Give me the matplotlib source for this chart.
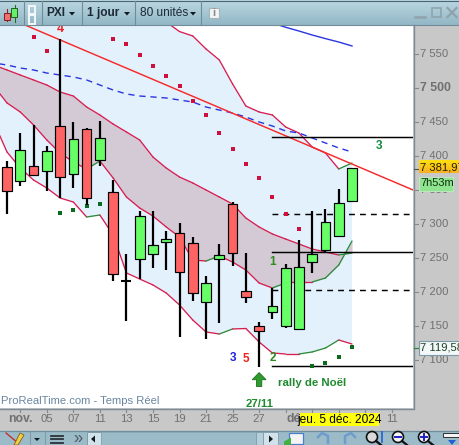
import matplotlib
matplotlib.use("Agg")
import matplotlib.pyplot as plt
from matplotlib.patches import Rectangle, Polygon, Circle
import numpy as np

plt.rcParams['font.family'] = ['Liberation Sans', 'DejaVu Sans']
W, H = 459, 445

# ---------- data ----------
highs = [7392.6,7433.8,7445.6,7414.7,7572,7450,7441.2,7451.5,7364.7,7256,7319,7319,7289.7,7301.5,7280.4,7223.5,7270.6,7332.8,7257.3,7155.4,7205.4,7240.7,7276.5,7319.6,7321.6,7351.5,7381.9]
lows = [7315,7356.3,7371,7349,7337.8,7353.4,7328,7385.7,7216,7157.8,7218.7,7235.7,7232.3,7134.2,7187.2,7130.4,7154.8,7238.7,7184.3,7090.2,7160.7,7147.5,7145.2,7228.4,7257,7282,7333.4]
opens = [7383.4,7362.8,7384.8,7377.5,7443.6,7373.1,7439.2,7393.7,7346.6,7216.2,7248,7255.4,7274,7286.3,7271.6,7184.8,7249,7329,7201.5,7149.6,7170.8,7150.4,7146,7243.7,7261.3,7282,7333.4]
closes = [7349,7408.3,7371.6,7406.9,7368.7,7424.5,7337.8,7426,7226,7216.2,7311.3,7268.7,7277.5,7229,7198,7212.8,7253.9,7256.9,7193,7142.2,7179,7234.8,7236.3,7255.4,7302.5,7330.4,7381.9]

band_idx = list(range(-1, 27))
upper_outer = [7790,7778,7762,7744,7733,7716,7701,7683,7671,7656,7641,7624,7610,7597,7583,7576.5,7557.3,7541.2,7505.9,7473.5,7464.7,7460.3,7442.6,7433.8,7413.2,7404.4,7380.9,7389.7]
upper_inner = [7533.8,7526.5,7519.1,7511.8,7504.4,7494.1,7488.2,7472.1,7460.3,7447,7435.3,7423.5,7398.5,7382.3,7369.1,7360.3,7350,7339.7,7329.4,7308.8,7295.6,7285.3,7277.9,7270.6,7263.2,7258.8,7254.4,7257.3]
lower_inner = [7503,7478,7464.7,7445.6,7423.5,7404.4,7391.2,7380.9,7392.6,7367.6,7339.7,7323.5,7311.7,7295.6,7280.9,7247,7245.6,7252.9,7244.1,7232.3,7213.2,7205.9,7213.2,7214.7,7214.7,7220.6,7239.7,7275]
lower_outer = [7450,7405.9,7382.3,7364.7,7352.9,7338.2,7332.3,7310.3,7313.2,7283.8,7228,7219.1,7210.3,7198.5,7180.9,7158.8,7141.2,7138.2,7145.6,7146.3,7126.5,7110.3,7108.8,7108.8,7111.8,7117.6,7129.4,7123.5]
blue_dashed = [7536.8,7533.8,7529.4,7526.5,7522,7519.1,7516.2,7511.8,7504.4,7497,7491.2,7488.2,7486.8,7485.3,7482.3,7479.4,7472,7467.6,7463.2,7457.3,7450,7444.1,7436.8,7433.8,7426.5,7419.1,7411.8,7405.9]
blue_idx = [20,21,22,23,24,25,26]
blue_solid = [7595.6,7589.3,7583.8,7577.9,7572.6,7567.6,7561.8]
trend_x = [1.36, 30.6]
trend_y = [7592.6, 7350]
solid_levels = [7427.5, 7258.4, 7090.7]
dashed_levels = [7314.2, 7202.4]
red_dot_idx = [2,3,8,9,10,11,12,13,14,15,16,17,18,19,20,21,22]
red_dots = [7575,7554.4,7572,7564.7,7548.5,7532.3,7517.6,7502.9,7480.9,7460.3,7433.8,7410.3,7388.2,7367.6,7339.7,7314.7,7292.6]
green_dot_idx = [4,5,6,7,23,24,25,26]
green_dots = [7316.2,7320.6,7326.5,7329.4,7091.2,7095.6,7104.4,7119.1]
y_ticks = [7550,7500,7450,7400,7350,7300,7250,7200,7150,7100]
x_tick_idx = [1,3,5,7,9,11,13,15,17,19,21,23,25,27,29]
x_label_idx = [1,3,5,7,9,11,13,15,17,19,22,29]
x_tick_labels = ['nov.','05','07','11','13','15','19','21','25','27','déc.','11']

# ---------- layout helpers ----------
CL, CR, CT, CB = 0, 413, 25, 408
fig = plt.figure(figsize=(W/100, H/100), dpi=100, facecolor='#C8C8C8')
ax = fig.add_axes([CL/W, 1-CB/H, (CR-CL)/W, (CB-CT)/H], zorder=1)
ax.set_xlim((0-7)/13.27, (413-7)/13.27)
ax.set_ylim(7629.4-408*1.4706, 7629.4-25*1.4706)
ax.set_xticks([]); ax.set_yticks([])
for s in ax.spines.values():
    s.set_visible(False)

CRED = '#D81E50'; CGRN = '#2E8B3A'; FILLB = '#E3F1FD'; FILLG = '#D3CAD6'

ax.fill_between(band_idx, lower_outer, upper_outer, color=FILLB, lw=0, zorder=1)
ax.fill_between(band_idx, lower_inner, upper_inner, color=FILLG, lw=0, zorder=2)

def band(vals):
    for k in range(len(vals)-1):
        col = CGRN if vals[k+1]-vals[k] > 2.5 else CRED
        ax.plot(band_idx[k:k+2], vals[k:k+2], color=col, lw=0.95, zorder=3, solid_capstyle='round')
for b in (upper_outer, upper_inner, lower_inner, lower_outer):
    band(b)

ax.plot(band_idx, blue_dashed, color='#2A35E0', lw=1.0, ls=(0, (4.5, 3.5)), zorder=3)
ax.plot(blue_idx, blue_solid, color='#2A35E0', lw=1.0, zorder=3)
ax.plot(trend_x, trend_y, color='#F52A2A', lw=1.05, zorder=4)

for lv in solid_levels:
    ax.plot([20, 30.6], [lv, lv], color='black', lw=1.05, zorder=4)
for lv in dashed_levels:
    ax.plot([20, 30.6], [lv, lv], color='black', lw=1.05, ls=(0, (4, 3.5)), zorder=4)

ax.scatter(red_dot_idx, red_dots, marker='s', s=9, color='#D0103C', lw=0, zorder=4)
ax.scatter(green_dot_idx, green_dots, marker='s', s=8, color='#0A6A1E', lw=0, zorder=4)

for i, (h, l, o, c) in enumerate(zip(highs, lows, opens, closes)):
    ax.plot([i, i], [l, h], color='black', lw=1.6, zorder=5, solid_capstyle='butt')
    up = c >= o
    if abs(c-o) < 0.5:
        ax.plot([i-0.38, i+0.38], [o, o], color='black', lw=1.5, zorder=6, solid_capstyle='butt')
    else:
        ax.bar(i, abs(c-o), bottom=min(o, c), width=0.73, color='#66FF66' if up else '#FF6464',
               edgecolor='black', lw=0.85, zorder=6)

def lab(i, p, s, col, size=8.5, **kw):
    ax.text(i, p, s, color=col, fontsize=size, fontweight='bold', ha='center', va='center', zorder=7, **kw)
lab(4, 7587, '4', '#F02020', 9)
lab(28, 7415, '3', '#0F8A3C', 8.5)
lab(20, 7244, '1', '#2E8B1E', 8.5)
lab(20, 7103, '2', '#2E8B1E', 8.5)
lab(17, 7103, '3', '#2020E0', 8.5)
lab(18, 7102, '5', '#F02020', 8.5)
ax.text(23.02, 7066, 'rally de Noël', color='#1F8A2E', fontsize=8.2, fontweight='bold', ha='center', va='center', zorder=7)
lab(19, 7036, '27/11', '#1F8A2E', 8.2)
ax.add_patch(Polygon([[19, 7081.5], [19.52, 7071], [19.2, 7071], [19.2, 7061], [18.8, 7061], [18.8, 7071], [18.48, 7071]],
                     closed=True, fc='#2E9B2E', ec='#1F6B1F', lw=0.6, zorder=7))
ax.text(-0.47, 7039.5, 'ProRealTime.com - Temps Réel', color='#6A86A0', fontsize=8.1, ha='left', va='center', zorder=7)

# ---------- window chrome (pixel coordinates) ----------
ch = fig.add_axes([0, 0, 1, 1], zorder=2)
ch.set_xlim(0, W); ch.set_ylim(H, 0); ch.axis('off'); ch.patch.set_alpha(0)

def grad(x0, x1, y0, y1, c0, c1, z=1):
    c0 = np.array(matplotlib.colors.to_rgb(c0)); c1 = np.array(matplotlib.colors.to_rgb(c1))
    t = np.linspace(0, 1, 32)[:, None, None]
    img = c0[None, None, :]*(1-t) + c1[None, None, :]*t
    ch.imshow(img, extent=(x0, x1, y1, y0), aspect='auto', zorder=z, interpolation='bilinear')

grad(0, W, 0, 25, '#BAD7E2', '#93B7C5')
ch.plot([0, W], [0.5, 0.5], color='#4A6470', lw=0.8, zorder=2)
ch.plot([0, W], [25, 25], color='#6F8C98', lw=0.8, zorder=2)
for x in (23.5, 41.5, 81.5, 134.5, 200.5):
    ch.plot([x, x], [1, 25], color='#6F8C98', lw=0.8, zorder=2)
ch.text(46, 13, 'PXI', fontsize=8.6, fontweight='bold', color='#1C2A36', va='center', zorder=3)
ch.text(87, 13, '1 jour', fontsize=8.6, fontweight='bold', color='#1C2A36', va='center', zorder=3)
ch.text(140, 13, '80 unités', fontsize=8.6, color='#1C2A36', va='center', zorder=3)
for x in (72, 127, 193):
    ch.add_patch(Polygon([[x-3, 12], [x+3, 12], [x, 15.5]], fc='#101820', ec='none', zorder=3))
# candle icon
ch.plot([6.5, 6.5], [9, 21], color='#A02020', lw=0.8, zorder=3)
ch.add_patch(Rectangle((3.5, 12.7), 6, 7.3, fc='#F07070', ec='#802020', lw=0.7, zorder=4))
ch.plot([14.5, 14.5], [5, 21.7], color='#207020', lw=0.8, zorder=3)
ch.add_patch(Rectangle((11, 8), 6.3, 9.3, fc='#66EE66', ec='#206020', lw=0.7, zorder=4))
# chain icon
ch.add_patch(Rectangle((29, 6), 6, 8, fc='none', ec='#F4F8FA', lw=1.4, zorder=3))
ch.add_patch(Rectangle((29, 15), 6, 9, fc='none', ec='#F4F8FA', lw=1.4, zorder=3))
# info icon
ch.add_patch(Rectangle((208.5, 7.5), 10.5, 10.5, fc='#F2F5F6', ec='#A8B4BA', lw=0.8, zorder=3))
ch.text(213.8, 13, 'i', fontsize=8, fontweight='bold', color='#8A8A8A', ha='center', va='center', zorder=4)
# window buttons
ch.plot([415, 425], [16.5, 16.5], color='#8FA3AD', lw=1.8, zorder=3)
ch.add_patch(Rectangle((431.5, 8), 9, 9, fc='none', ec='#8FA3AD', lw=1.2, zorder=3))
ch.plot([447.5, 456.5], [8, 17], color='#8FA3AD', lw=1.6, zorder=3)
ch.plot([447.5, 456.5], [17, 8], color='#8FA3AD', lw=1.6, zorder=3)

# right scale
ch.plot([413.5, 413.5], [25, 408], color='#7C8C96', lw=1.0, zorder=2)
for v in y_ticks:
    y = (7629.4-v)/1.4706
    ch.plot([413.5, 418], [y, y], color='#7C8C96', lw=0.8, zorder=2)
    bold = v == 7500
    ch.text(420, y, f'{v//1000} {v%1000:03d}', fontsize=8.9 if bold else 8.1,
            fontweight='bold' if bold else 'normal', color='#707070', va='center', zorder=3)
ch.plot([413.5, 418], [168.5, 168.5], color='#505050', lw=0.8, zorder=2)
ch.plot([413.5, 418], [347.5, 347.5], color='#2E8B3A', lw=0.9, zorder=2)
grad(419, 459, 161, 173.5, '#FFE010', '#F8B020', z=4)
ch.text(420.5, 167.5, '7 381,97', fontsize=8.1, color='#202000', va='center', zorder=5, clip_on=True)
ch.add_patch(Rectangle((418.5, 176.5), 34.5, 14, fc='#8FE48F', ec='#C0E8C0', lw=0.7, zorder=4))
ch.text(420.5, 183.5, '7h53m', fontsize=7.9, color='#103010', va='center', zorder=5)
ch.add_patch(Rectangle((418.5, 340.5), 41, 14, fc='#F2F7FA', ec='#7C9AA8', lw=0.8, zorder=4))
ch.text(420.5, 347.5, '7 119,58', fontsize=8.1, color='#204020', va='center', zorder=5, clip_on=True)

# bottom scale
ch.plot([0, 414], [408.5, 408.5], color='#7C8C96', lw=1.0, zorder=2)
for i in x_tick_idx:
    x = 7 + 13.27*i
    ch.plot([x, x], [408.5, 412], color='#7C8C96', lw=0.8, zorder=2)
for i, s in zip(x_label_idx, x_tick_labels):
    x = 7 + 13.27*i
    isb = s in ('nov.', 'déc.')
    ch.text(x, 419.5, s, fontsize=8.8 if isb else 8.1, fontweight='bold' if isb else 'normal',
            color='#707070', ha='center', va='center', zorder=3)
ch.add_patch(Rectangle((300, 413.3), 79, 12.5, fc='#FFFF10', ec='none', zorder=4))
ch.text(339.5, 419.8, 'jeu. 5 déc. 2024', fontsize=8.6, color='black', ha='center', va='center', zorder=5)

# bottom toolbar
ch.add_patch(Rectangle((0, 431), W, 14, fc='#9BBBC9', ec='none', zorder=2))
ch.plot([0, W], [431, 431], color='#6F8E9C', lw=0.9, zorder=3)
for x in (29.5, 44.5):
    ch.plot([x, x], [431, 445], color='#7E9CAA', lw=0.8, zorder=3)
ch.plot([6, 18], [433, 443], color='#D02020', lw=0.9, zorder=3)
ch.add_patch(Polygon([[14, 445], [20, 433], [24, 435], [18, 445]], fc='#F2D040', ec='#806020', lw=0.6, zorder=4))
ch.add_patch(Polygon([[34, 438], [40, 438], [37, 441]], fc='#101820', ec='none', zorder=3))
for y in (435.5, 439, 442.5):
    ch.plot([51, 63], [y, y], color='#2A3238', lw=1.3, zorder=3)
ch.text(78, 438, '»', fontsize=12, color='#505A60', ha='center', va='center', zorder=3)
ch.add_patch(Rectangle((87, 432), 14, 13, fc='#D2E2EA', ec='#7E9CAA', lw=0.7, zorder=3))
ch.add_patch(Polygon([[91, 439], [95, 435.5], [95, 442.5]], fc='#101820', ec='none', zorder=4))
ch.add_patch(Rectangle((101, 432), 155, 13, fc='#9BBBC9', ec='#86A6B4', lw=0.6, zorder=3))
ch.add_patch(Rectangle((256, 432), 7, 13, fc='#B4D0DC', ec='#7E9CAA', lw=0.6, zorder=3))
ch.add_patch(Rectangle((263, 432), 15, 13, fc='#D2E2EA', ec='#7E9CAA', lw=0.6, zorder=3))
ch.add_patch(Polygon([[269, 435.5], [273, 439], [269, 442.5]], fc='#101820', ec='none', zorder=4))
ch.add_patch(Rectangle((289, 433), 13.5, 11, fc='#F4F4F4', ec='#4A80C8', lw=0.9, zorder=3))
ch.add_patch(Polygon([[284, 441.5], [291, 437.5], [291, 445], [284, 445]], fc='#40B040', ec='none', zorder=4))
ch.plot([318, 322, 328, 328], [437, 433, 436, 443], color='#6E9CCC', lw=1.8, zorder=3)
ch.plot([355, 351, 345, 345], [437, 433, 436, 443], color='#6E9CCC', lw=1.8, zorder=3)
for x, c in ((372, '#D8D8D8'), (398, '#F4F4F4'), (424, '#F4F4F4')):
    ch.add_patch(Circle((x, 437), 5.5, fc=c, ec='#101010', lw=1.2, zorder=3))
ch.plot([376, 381], [441, 445], color='#101010', lw=1.6, zorder=3)
ch.plot([402, 407], [441, 445], color='#101010', lw=1.6, zorder=3)
ch.plot([428, 433], [441, 445], color='#101010', lw=1.6, zorder=3)
ch.plot([395, 401], [437, 437], color='#2020C0', lw=1.4, zorder=4)
ch.plot([421, 427], [437, 437], color='#2020C0', lw=1.4, zorder=4)
ch.plot([424, 424], [434, 440], color='#2020C0', lw=1.4, zorder=4)
ch.plot([382, 382], [432, 442], color='#2060D0', lw=1.2, zorder=4)
ch.add_patch(Rectangle((443, 433), 16, 4, fc='#F4F4F4', ec='#303030', lw=0.7, zorder=3))
ch.add_patch(Polygon([[448, 440], [456, 440], [452, 445]], fc='#2060D0', ec='none', zorder=3))

ch.set_xlim(0, W); ch.set_ylim(H, 0)
fig.savefig('out.png', dpi=100, facecolor=fig.get_facecolor())
